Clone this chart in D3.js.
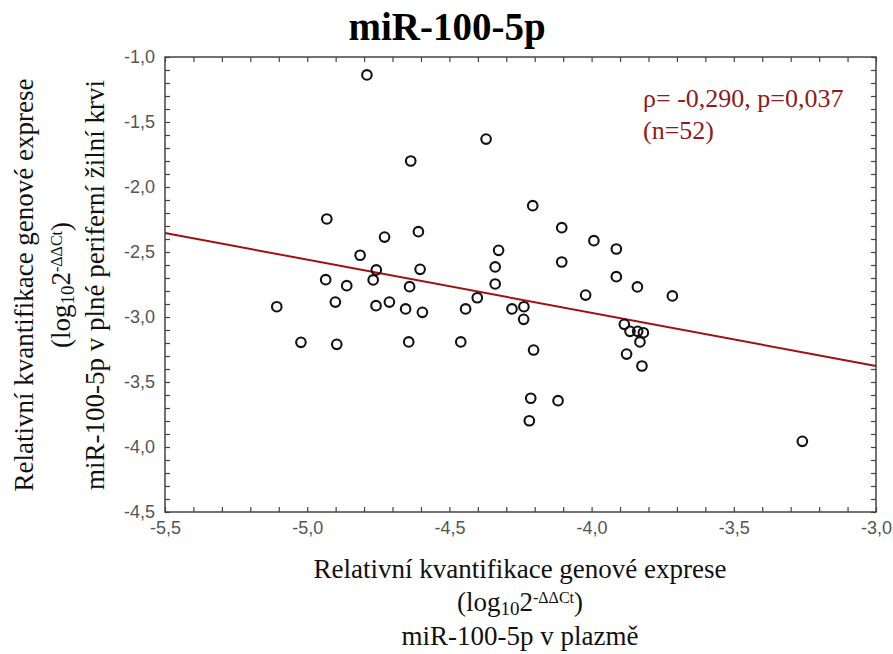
<!DOCTYPE html>
<html>
<head>
<meta charset="utf-8">
<script src="https://cdn.jsdelivr.net/npm/d3@7"></script>
<style>
  body { margin: 0; background: #fff; }
  svg { display: block; }
</style>
</head>
<body>
<svg class="chart"></svg>
<script>
// plasma (x) vs whole peripheral venous blood (y), log10 2^-ddCt
var plasma = [-5.107, -5.022, -4.931, -4.935, -4.901, -4.896, -4.861, -4.814, -4.790, -4.757,
              -4.768, -4.758, -4.728, -4.711, -4.654, -4.643, -4.640, -4.636, -4.609, -4.603,
              -4.595, -4.460, -4.443, -4.402, -4.371, -4.339, -4.339, -4.327, -4.280, -4.238,
              -4.239, -4.207, -4.204, -4.214, -4.219, -4.118, -4.105, -4.105, -4.021, -3.992,
              -3.913, -3.913, -3.885, -3.877, -3.865, -3.838, -3.839, -3.818, -3.830, -3.823,
              -3.716, -3.259];
var blood  = [-2.921, -3.195, -2.246, -2.713, -2.885, -3.210, -2.759, -2.525, -1.138, -2.638,
              -2.715, -2.913, -2.385, -2.885, -2.938, -3.192, -2.767, -1.800, -2.344, -2.633,
              -2.964, -3.192, -2.938, -2.852, -1.631, -2.615, -2.746, -2.487, -2.938, -2.921,
              -3.018, -2.144, -3.254, -3.625, -3.798, -3.644, -2.313, -2.577, -2.831, -2.413,
              -2.477, -2.690, -3.056, -3.285, -3.110, -3.110, -2.769, -3.121, -3.192, -3.377,
              -2.838, -3.956];

// fitted line as drawn (end points)
var fitX = [-5.5, -3.0];
var fitY = [-2.354, -3.377];

var xTicks = [-5.5, -5.0, -4.5, -4.0, -3.5, -3.0];
var yTicks = [-1.0, -1.5, -2.0, -2.5, -3.0, -3.5, -4.0, -4.5];

var statLines = ["\u03c1= -0,290, p=0,037", "(n=52)"];

var W = 893, H = 654;
var pLeft = 165, pRight = 876, pTop = 57, pBottom = 512;

var x = d3.scaleLinear().domain([-5.5, -3.0]).range([pLeft, pRight]);
var y = d3.scaleLinear().domain([-1.0, -4.5]).range([pTop, pBottom]);

var loc = d3.formatLocale({decimal: ",", thousands: " ", grouping: [3], currency: ["", ""], minus: "-"});
var fmt = loc.format(".1f");

var svg = d3.select(".chart").attr("width", W).attr("height", H)
  .style("font-family", "'Liberation Serif', 'Times New Roman', serif");

svg.append("rect").attr("width", W).attr("height", H).attr("fill", "#fff");

// minor ticks every 0.1, inside the frame on all four sides
var xMinor = d3.range(-5.5, -2.95, 0.1);
var yMinor = d3.range(-1.0, -4.55, -0.1);
var tickCol = "#444";

function minor(g) {
  g.select(".domain").remove();
  g.selectAll("text").remove();
  g.selectAll("line").attr("stroke", tickCol).attr("stroke-width", 1.2);
}
svg.append("g").attr("transform", "translate(0," + pBottom + ")")
  .call(d3.axisBottom(x).tickValues(xMinor).tickSize(-5)).call(minor);
svg.append("g").attr("transform", "translate(0," + pTop + ")")
  .call(d3.axisTop(x).tickValues(xMinor).tickSize(-5)).call(minor);
svg.append("g").attr("transform", "translate(" + pLeft + ",0)")
  .call(d3.axisLeft(y).tickValues(yMinor).tickSize(-5)).call(minor);
svg.append("g").attr("transform", "translate(" + pRight + ",0)")
  .call(d3.axisRight(y).tickValues(yMinor).tickSize(-5)).call(minor);

// tick labels
var xa = svg.append("g").attr("transform", "translate(0," + pBottom + ")")
  .call(d3.axisBottom(x).tickValues(xTicks).tickSize(0).tickPadding(9).tickFormat(fmt));
xa.select(".domain").remove();
var ya = svg.append("g").attr("transform", "translate(" + pLeft + ",0)")
  .call(d3.axisLeft(y).tickValues(yTicks).tickSize(0).tickPadding(10).tickFormat(fmt));
ya.select(".domain").remove();
svg.selectAll(".tick text")
  .style("font-family", "'Liberation Sans', Arial, sans-serif")
  .style("font-size", "18px")
  .attr("fill", "#555");

// frame
svg.append("rect")
  .attr("x", pLeft).attr("y", pTop)
  .attr("width", pRight - pLeft).attr("height", pBottom - pTop)
  .attr("fill", "none").attr("stroke", tickCol).attr("stroke-width", 1.5);

// regression line
svg.append("line")
  .attr("x1", x(fitX[0])).attr("y1", y(fitY[0]))
  .attr("x2", x(fitX[1])).attr("y2", y(fitY[1]))
  .attr("stroke", "#9e1111").attr("stroke-width", 2);

// points
svg.append("g").selectAll("circle")
  .data(plasma)
  .enter().append("circle")
  .attr("cx", function(d) { return x(d); })
  .attr("cy", function(d, i) { return y(blood[i]); })
  .attr("r", 4.8)
  .attr("fill", "none")
  .attr("stroke", "#111")
  .attr("stroke-width", 2.1);

// stats
svg.append("g").selectAll("text")
  .data(statLines)
  .enter().append("text")
  .attr("x", 643).attr("y", function(d, i) { return 107 + i * 32; })
  .attr("fill", "#8e1b1b")
  .style("font-size", "26px")
  .text(function(d) { return d; });

// title
svg.append("text")
  .attr("x", 447).attr("y", 40)
  .attr("text-anchor", "middle")
  .style("font-size", "39px").style("font-weight", "bold")
  .text("miR-100-5p");

// axis titles (3 lines each, middle one with sub/superscript)
function unitLine(t) {
  t.append("tspan").text("(log");
  t.append("tspan").attr("baseline-shift", "-22%").style("font-size", "19px").text("10");
  t.append("tspan").text("2");
  t.append("tspan").attr("baseline-shift", "50%").style("font-size", "16px").text("-\u0394\u0394Ct");
  t.append("tspan").text(")");
}

var xt = svg.append("g").attr("transform", "translate(520,0)")
  .style("font-size", "27px").attr("fill", "#111").attr("text-anchor", "middle");
xt.append("text").attr("y", 578).text("Relativní kvantifikace genové exprese");
xt.append("text").attr("y", 611).call(unitLine);
xt.append("text").attr("y", 645).text("miR-100-5p v plazmě");

var yt = svg.append("g").attr("transform", "translate(0,285) rotate(-90)")
  .style("font-size", "27px").attr("fill", "#111").attr("text-anchor", "middle");
yt.append("text").attr("y", 33).text("Relativní kvantifikace genové exprese");
yt.append("text").attr("y", 70).call(unitLine);
yt.append("text").attr("y", 104).text("miR-100-5p v plné periferní žilní krvi");
</script>
</body>
</html>
